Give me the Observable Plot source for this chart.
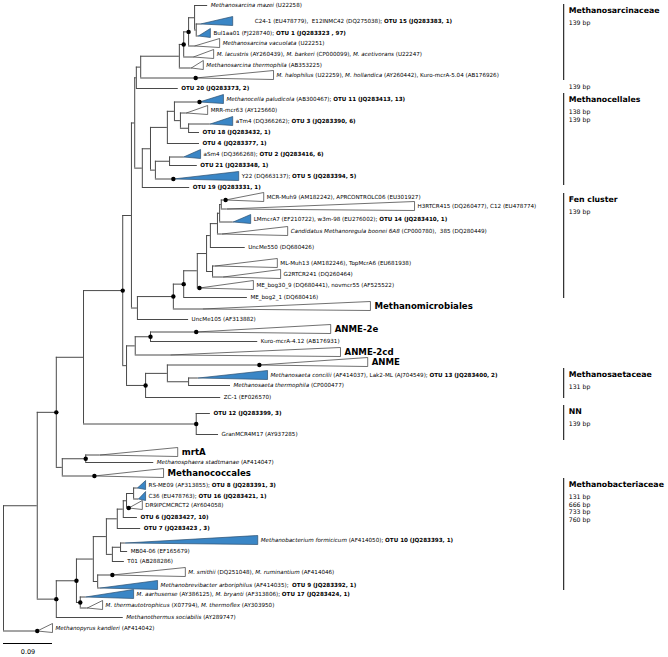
<!DOCTYPE html>
<html><head><meta charset="utf-8">
<script src="https://cdn.jsdelivr.net/npm/d3@7"></script>
<script src="https://cdn.jsdelivr.net/npm/@observablehq/plot@0.6"></script>
<style>
html,body{margin:0;padding:0;background:#fff;}
#chart svg{display:block;}
#chart text{white-space:pre;}
</style></head><body><div id="chart"></div>
<script>
// ---------- leaves (single sequences and collapsed clades) ----------
const leafNames = [
 "*Methanosarcina mazei* (U22258)",
 "C24-1 (EU478779),  E12INMC42 (DQ275038); **OTU 15 (JQ283383, 1)**",
 "Bul1aa01 (FJ228740); **OTU 1 (JQ283323 , 97)**",
 "*Methanosarcina vacuolata* (U22251)",
 "*M. lacustris* (AY260439), *M. barkeri* (CP000099), *M. acetivorans* (U22247)",
 "*Methanosarcina thermophila* (AB353225)",
 "*M. halophilus* (U22259), *M. hollandica* (AY260442), Kuro-mcrA-5.04 (AB176926)",
 "**OTU 20 (JQ283373, 2)**",
 "*Methanocella paludicola* (AB300467); **OTU 11 (JQ283413, 13)**",
 "MRR-mcr63 (AY125660)",
 "aTm4 (DQ366262); **OTU 3 (JQ283390, 6)**",
 "**OTU 18 (JQ283432, 1)**",
 "**OTU 4 (JQ283377, 1)**",
 "aSm4 (DQ366268); **OTU 2 (JQ283416, 6)**",
 "**OTU 21 (JQ283348, 1)**",
 "Y22 (DQ663137); **OTU 5 (JQ283394, 5)**",
 "**OTU 19 (JQ283331, 1)**",
 "MCR-Muh9 (AM182242), APRCONTROLC06 (EU301927)",
 "H3RTCR415 (DQ260477), C12 (EU478774)",
 "LMmcrA7 (EF210722), w3m-98 (EU276002); **OTU 14 (JQ283410, 1)**",
 "*Candidatus Methanoregula boonei 6A8* (CP000780),  385 (DQ280449)",
 "UncMe550 (DQ680426)",
 "ML-Muh13 (AM182246), TopMcrA6 (EU681938)",
 "G2RTCR241 (DQ260464)",
 "ME_bog30_9 (DQ680441), novmcr55 (AF525522)",
 "ME_bog2_1 (DQ680416)",
 "Methanomicrobiales",
 "UncMe105 (AF313882)",
 "ANME-2e",
 "Kuro-mcrA-4.12 (AB176931)",
 "ANME-2cd",
 "ANME",
 "*Methanosaeta concilii* (AF414037), Lak2-ML (AJ704549); **OTU 13 (JQ283400, 2)**",
 "*Methanosaeta thermophila* (CP000477)",
 "ZC-1 (EF026570)",
 "**OTU 12 (JQ283399, 3)**",
 "GranMCR4M17 (AY937285)",
 "mrtA",
 "*Methanosphaera stadtmanae* (AF414047)",
 "Methanococcales",
 "RS-ME09 (AF313855); **OTU 8 (JQ283391, 3)**",
 "C36 (EU478763); **OTU 16 (JQ283421, 1)**",
 "DR9IPCMCRCT2 (AY604058)",
 "**OTU 6 (JQ283427, 10)**",
 "**OTU 7 (JQ283423 , 3)**",
 "*Methanobacterium formicicum* (AF414050); **OTU 10 (JQ283393, 1)**",
 "MB04-06 (EF165679)",
 "T01 (AB288286)",
 "*M. smithii* (DQ251048), *M. ruminantium* (AF414046)",
 "*Methanobrevibacter arboriphilus* (AF414035);  **OTU 9 (JQ283392, 1)**",
 "*M. aarhusense* (AY386125), *M. bryanti* (AF313806); **OTU 17 (JQ283424, 1)**",
 "*M. thermautotrophicus* (X07794), *M. thermoflex* (AY303950)",
 "*Methanothermus sociabilis* (AY289747)",
 "*Methanopyrus kandleri* (AF414042)"
];
const leafParent = ["n1","nCB","nCB","n2","n3","n4","n5","n6","c3","c2","c1","c1","c4","c5","c5","c6","c8",
 "fa","fa","fb","fc","fd","fe","fe","X","fg","fh","U1","a1","a1","a2","a4","a3","a3","a5","o1","o1",
 "mrt","mrt","Mg","b1","b1","b2","b3","b4","b5","b5","b6","b8","b8","b10","b10","D","R"];
// distance from root (substitutions/site) where each leaf branch ends
const leafEnd = [0.375,0.362,0.358,0.351,0.349,0.345,0.353,0.321,0.360,0.336,0.380,0.360,0.360,0.331,0.356,0.312,0.342,
 0.408,0.411,0.422,0.402,0.444,0.389,0.404,0.360,0.448,0.366,0.340,0.354,0.467,0.307,0.470,0.358,0.417,0.399,0.380,0.395,
 0.178,0.276,0.167,0.246,0.248,0.230,0.246,0.252,0.224,0.228,0.222,0.200,0.178,0.151,0.154,0.220,0.062];
// depth of collapsed clades (null = single sequence)
const leafTip = [null,0.421,0.380,0.397,0.386,0.367,0.496,null,0.404,0.375,0.421,null,null,0.362,null,0.432,null,
 0.478,0.755,0.454,0.522,null,0.503,0.509,0.459,null,0.674,null,0.601,null,0.619,0.669,0.485,null,null,null,null,
 0.320,null,0.294,0.261,0.261,0.255,null,null,0.467,null,null,0.334,0.283,0.239,0.182,null,0.090];
// vertical order position of each leaf
const leafRow = [5,21,33,43,54,65,75,88,99,110,121,132,143,154,165,176,187,197,206,219,231,247,263,274,285,297,306,
 319,329,341,352,362,375,385,397,413,434,452,462,473,485,496,505,517,528,540,551,561,572,585,594,605,617,628];
// extra space between clade and label (only where the figure shows it)
const labelGapIdx = [1];
const labelGapDist = [0.035];
const blueClades = [1,2,8,10,13,15,19,32,40,41,45,49,50];
const leafSupported = [6,8,15,17,24,28,31,39,42,48,53];
const majorClades = [26,28,30,31,37,39];

// ---------- internal nodes ----------
const nodeName = ["nCB","n1","n2","n3","n4","n5","n6","c1","c2","c3","c4","c5","c6","c7","c8","T3",
 "fa","fb","fc","fd","fe","Y","X","fg","fh","U1","T2","a1","a2","a3","a4","a5","a6","V","o1","W","mrt","Mg","B",
 "b1","b2","b3","b4","b5","b6","b7","b8","b9","b10","b11","D","A","R"];
const nodeParent = ["n1","n2","n3","n4","n5","n6","T3","c2","c3","c4","c7","c6","c7","c8","T3","T2",
 "fb","fc","fd","Y","Y","X","fg","fh","U1","T2","V","a2","a6","a4","a5","a6","V","W","W","B","Mg","B","A",
 "b2","b3","b4","b7","b6","b7","b9","b9","b11","b11","D","A","R",null];
const nodeDist = [0.354,0.351,0.340,0.331,0.323,0.252,0.244,0.340,0.325,0.314,0.301,0.305,0.279,0.270,0.255,0.241,
 0.400,0.397,0.393,0.380,0.384,0.373,0.356,0.331,0.312,0.246,0.235,0.270,0.242,0.340,0.301,0.261,0.226,0.219,0.354,
 0.147,0.151,0.108,0.097,0.239,0.226,0.220,0.209,0.215,0.200,0.189,0.173,0.165,0.141,0.134,0.097,0.062,0];
const nodeSupported = ["n2","n3","fg","fh","a1","a5","V","o1","mrt","B","b10","b11","D"];

// ---------- right-hand annotations ----------
const groupNames = ["Methanosarcinaceae","Methanocellales","Fen cluster","Methanosaetaceae","NN","Methanobacteriaceae"];
const groupTop = [4,93,193,368,405,478];
const groupBottom = [80,185,298,398,440,590];
const groupLengths = [["139 bp"],["138 bp","139 bp"],["139 bp"],["131 bp"],["139 bp"],["131 bp","666 bp","733 bp","760 bp"]];
const noteText = ["139 bp"];
const noteRow = [87];
const scaleBarLength = 0.09;
const scaleBarRow = 643;

// ---------- build ----------
const apexOffset = 2.5, triTop = -5, triBottom = 4;
const leaves = leafNames.map((label,i)=>({
  id:"L"+i, label, parent:leafParent[i], dist:leafEnd[i], tip:leafTip[i], row:leafRow[i],
  blue: blueClades.includes(i), dot: leafSupported.includes(i), big: majorClades.includes(i),
  gap: labelGapIdx.includes(i) ? labelGapDist[labelGapIdx.indexOf(i)] : 0,
  y: leafTip[i]==null ? leafRow[i] : leafRow[i] + apexOffset
}));
const nodes = nodeName.map((id,i)=>({id, parent:nodeParent[i], dist:nodeDist[i], dot:nodeSupported.includes(id)}));
const byId = new Map(nodes.map(d=>[d.id,d]));
const kids = new Map(nodes.map(d=>[d.id,[]]));
leaves.forEach(d=>kids.get(d.parent).push(d));
nodes.forEach(d=>{ if(d.parent) kids.get(d.parent).push(d); });
function yOf(n){
  if (n.y !== undefined) return n.y;
  const ys = kids.get(n.id).map(yOf);
  n.y0 = d3.min(ys); n.y1 = d3.max(ys); n.y = (n.y0+n.y1)/2;
  return n.y;
}
nodes.forEach(yOf);

const horiz = [...leaves, ...nodes.filter(d=>d.parent)].map(d=>({x1:byId.get(d.parent).dist, x2:d.dist, y:d.y}));
const vert = nodes.map(d=>({x:d.dist, y1:d.y0, y2:d.y1}));
const tris = leaves.filter(d=>d.tip!=null).flatMap(d=>[
  {id:d.id, blue:d.blue, x:d.dist, y:d.y},
  {id:d.id, blue:d.blue, x:d.tip, y:d.row+triTop},
  {id:d.id, blue:d.blue, x:d.tip, y:d.row+triBottom},
  {id:d.id, blue:d.blue, x:d.dist, y:d.y}]);
const dots = [...leaves.filter(d=>d.dot), ...nodes.filter(d=>d.dot)];
const groups = groupNames.map((name,i)=>({name, top:groupTop[i], bottom:groupBottom[i], lengths:groupLengths[i]}));
const bp = [...groups.flatMap(g=>g.lengths.map((t,j)=>({text:t, row:g.top+19+j*7.5}))),
            ...noteText.map((t,i)=>({text:t, row:noteRow[i]}))];
const bracketDist = 1.029;

const lineColor = "#4a4a4a";
const chart = Plot.plot({
  width: 668, height: 657,
  marginLeft: 3, marginRight: 11.7, marginTop: 0, marginBottom: 0,
  x: {domain:[0,1.2], axis:null},
  y: {domain:[0,657], reverse:true, axis:null},
  style: {fontFamily:"'DejaVu Sans', Verdana, sans-serif", background:"#fff"},
  marks: [
    Plot.ruleY(horiz, {x1:"x1", x2:"x2", y:"y", stroke:lineColor, strokeWidth:1}),
    Plot.ruleX(vert, {x:"x", y1:"y1", y2:"y2", stroke:lineColor, strokeWidth:1}),
    Plot.line(tris.filter(d=>!d.blue), {x:"x", y:"y", z:"id", fill:"#fff", stroke:"#333", strokeWidth:0.7}),
    Plot.line(tris.filter(d=>d.blue), {x:"x", y:"y", z:"id", fill:"#3a86c6", stroke:"#2b4f70", strokeWidth:0.7}),
    Plot.dot(dots, {x:"dist", y:"y", r:2.2, fill:"#000"}),
    Plot.text(leaves.filter(d=>!d.big), {x:d=>(d.tip ?? d.dist) + d.gap, y:"row", text:"label", textAnchor:"start", dx:3, fontSize:5.6, fill:"#000"}),
    Plot.text(leaves.filter(d=>d.big), {x:"tip", y:"row", text:"label", textAnchor:"start", dx:4, fontSize:8.6, fontWeight:"bold", fill:"#000"}),
    Plot.ruleX(groups, {x:()=>bracketDist, y1:"top", y2:"bottom", stroke:"#000", strokeWidth:1}),
    Plot.text(groups, {x:()=>bracketDist, y:d=>d.top+6, text:"name", textAnchor:"start", dx:5, fontSize:7.8, fontWeight:"bold", fill:"#000"}),
    Plot.text(bp, {x:()=>bracketDist, y:"row", text:"text", textAnchor:"start", dx:5, fontSize:6.2, fill:"#000"}),
    Plot.ruleY([scaleBarLength], {x1:0, x2:d=>d, y:()=>scaleBarRow, stroke:"#000", strokeWidth:1}),
    Plot.text([scaleBarLength], {x:d=>d/2, y:()=>scaleBarRow+8, text:d=>String(d), fontSize:6.5, fill:"#000"})
  ]
});
// rich text: *italic*, **bold**
d3.select(chart).selectAll("text").each(function(){
  const s = this.textContent;
  if (!s.includes("*")) return;
  const el = d3.select(this); el.text(null);
  s.split(/(\*\*[^*]+\*\*|\*[^*]+\*)/).filter(t=>t.length).forEach(t=>{
    if (t.startsWith("**")) el.append("tspan").attr("font-weight","bold").text(t.slice(2,-2));
    else if (t.startsWith("*")) el.append("tspan").attr("font-style","italic").text(t.slice(1,-1));
    else el.append("tspan").text(t);
  });
});
document.getElementById("chart").appendChild(chart);
</script></body></html>
